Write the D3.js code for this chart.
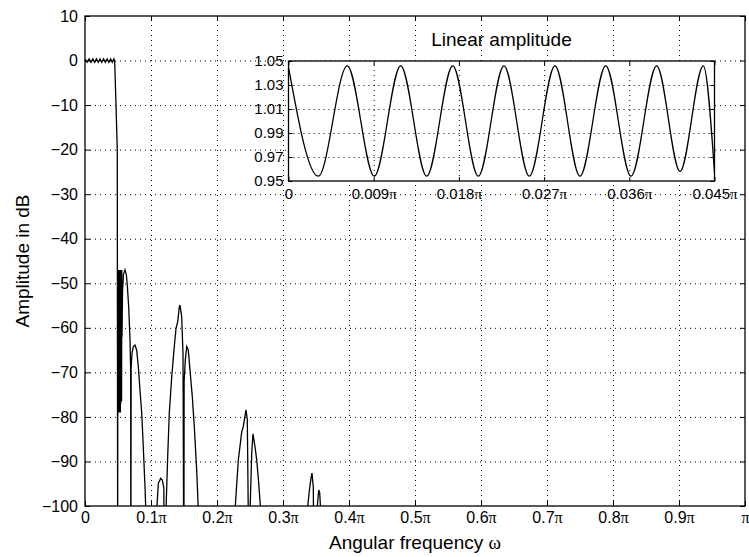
<!DOCTYPE html>
<html>
<head>
<script src="https://d3js.org/d3.v7.min.js"></script>
<style>
    body { margin: 0; background: #fff; font-family: "Liberation Sans", Arial, sans-serif; }
    .grid line { stroke: #000; stroke-width: 0.9; stroke-dasharray: 1, 4; }
    .grid path { display: none; }
    .tick line { stroke: #000; stroke-width: 1; }
</style>
</head>
<body>
<script>
// frequency in units of pi
// passband ripple (dB)
var passW = [0, 0.00315, 0.00621, 0.00906, 0.01185, 0.0146, 0.01735, 0.02005, 0.02276,
    0.02544, 0.02815, 0.03079, 0.03351, 0.03618, 0.03889, 0.04136, 0.04382, 0.045];
var passDb = [0.38, -0.4, 0.38, -0.4, 0.38, -0.4, 0.38, -0.4, 0.38,
    -0.4, 0.38, -0.4, 0.38, -0.4, 0.38, -0.37, 0.38, -0.38];

// transition + stopband (dB), -120 = below the plot floor
var stopW = [0.0470, 0.0489, 0.0495,
    0.0497, 0.0500, 0.0503, 0.0506, 0.0509, 0.0512, 0.0515, 0.0518, 0.0521, 0.0524,
    0.0527, 0.0530, 0.0533, 0.0536, 0.0539, 0.0542, 0.0545, 0.0548, 0.0551, 0.0554, 0.0557,
    0.0561, 0.0568, 0.0583, 0.0606, 0.0626, 0.0641, 0.0662, 0.0682, 0.0692, 0.0695,
    0.0699, 0.0712, 0.0732, 0.0758, 0.0783, 0.0808, 0.0833, 0.0859, 0.0883, 0.0909, 0.0924,
    0.0950, 0.1060,
    0.1086, 0.1111, 0.1147, 0.1171, 0.1195, 0.1197, 0.1210,
    0.1227, 0.1253, 0.1277, 0.1314, 0.1348, 0.1379, 0.1405, 0.1429, 0.1439, 0.1465, 0.1485, 0.1498,
    0.1502, 0.1520, 0.1541, 0.1565, 0.1591, 0.1626, 0.1656, 0.1692, 0.1717, 0.1750,
    0.2250, 0.2273, 0.2323, 0.2374, 0.2398, 0.2439, 0.2459, 0.2487,
    0.2503, 0.2526, 0.2545, 0.2576, 0.2602, 0.2632, 0.2662, 0.2700,
    0.3350, 0.3368, 0.3398, 0.3424, 0.3439, 0.3459, 0.3472, 0.3490,
    0.3515, 0.3541, 0.3556, 0.3571, 0.3600, 1.0];
var stopDb = [-10, -20, -120,
    -47, -79, -47, -79, -47, -79, -47, -79, -47, -79,
    -47, -77, -47, -79, -47, -77, -47, -76.5, -47, -76.5, -47,
    -62, -52, -48, -47, -48, -50.5, -55.3, -62.7, -69.5, -120,
    -69, -65.7, -64.2, -63.9, -65, -68.7, -74, -79, -86.7, -95.7, -102,
    -120, -120,
    -101, -94.9, -93.8, -94.2, -96, -120, -120,
    -101, -88.9, -79.2, -71, -65, -60.1, -58.6, -55.3, -54.9, -57.5, -66, -120,
    -72, -67.2, -64.2, -65, -69.5, -75.5, -82.2, -91.9, -101, -120,
    -120, -101, -89.7, -83.4, -82.2, -78.4, -80.6, -120,
    -100, -88.2, -83.8, -86.7, -89.7, -94.9, -101, -120,
    -120, -101, -96.7, -93.8, -92.6, -95.7, -120, -120,
    -101, -96.4, -97, -101, -120, -120];

var xTicks = [0, 0.1, 0.2, 0.3, 0.4, 0.5, 0.6, 0.7, 0.8, 0.9, 1];
var xTickLabels = ["0", "0.1π", "0.2π", "0.3π", "0.4π", "0.5π", "0.6π", "0.7π", "0.8π", "0.9π", "π"];
var yTicks = [10, 0, -10, -20, -30, -40, -50, -60, -70, -80, -90, -100];

// inset: linear amplitude in the passband
var insetW = [0, 0.00315, 0.00621, 0.00906, 0.01185, 0.0146, 0.01735, 0.02005, 0.02276,
    0.02544, 0.02815, 0.03079, 0.03351, 0.03618, 0.03889, 0.04136, 0.04382, 0.045];
var insetAmp = [1.045, 0.954, 1.046, 0.954, 1.046, 0.954, 1.046, 0.954, 1.046,
    0.954, 1.046, 0.954, 1.046, 0.954, 1.046, 0.958, 1.046, 0.957];
var insetXTicks = [0, 0.009, 0.018, 0.027, 0.036, 0.045];
var insetXTickLabels = ["0", "0.009π", "0.018π", "0.027π", "0.036π", "0.045π"];
var insetYTicks = [0.95, 0.97, 0.99, 1.01, 1.03, 1.05];

var W = 749, H = 557;
var svg = d3.select("body").append("svg").attr("width", W).attr("height", H);

// writes a label, putting pi in a serif face like the symbol font
function piLabel(sel, labels) {
    sel.each(function(d, i) {
        var t = d3.select(this).text(null);
        var s = labels[i];
        if (s.indexOf("π") >= 0) {
            t.append("tspan").text(s.replace("π", ""));
            t.append("tspan").style("font-family", "'Liberation Serif', serif").text("π");
        } else {
            t.text(s);
        }
    });
}

function minus(d) { return d < 0 ? "\u2212" + Math.abs(d) : String(d); }

// ---------- main axes ----------
var m = {left: 85, right: 745, top: 16, bottom: 506};
var x = d3.scaleLinear().domain([0, 1]).range([m.left, m.right]);
var y = d3.scaleLinear().domain([-100, 10]).range([m.bottom, m.top]);

svg.append("g").attr("class", "grid")
    .attr("transform", "translate(0," + m.bottom + ")")
    .call(d3.axisBottom(x).tickValues(xTicks.slice(1, -1)).tickSize(-(m.bottom - m.top)).tickFormat(""));
svg.append("g").attr("class", "grid")
    .attr("transform", "translate(" + m.left + ",0)")
    .call(d3.axisLeft(y).tickValues(yTicks.slice(1, -1)).tickSize(-(m.right - m.left)).tickFormat(""));

svg.append("clipPath").attr("id", "clipMain").append("rect")
    .attr("x", m.left).attr("y", m.top).attr("width", m.right - m.left).attr("height", m.bottom - m.top);

var mainW = passW.concat(stopW), mainDb = passDb.concat(stopDb);
svg.append("path")
    .datum(d3.range(mainW.length))
    .attr("clip-path", "url(#clipMain)")
    .attr("fill", "none").attr("stroke", "#000").attr("stroke-width", 1.3)
    .attr("d", d3.line().x(function(i) { return x(mainW[i]); }).y(function(i) { return y(mainDb[i]); }));

var xb = svg.append("g").attr("transform", "translate(0," + m.bottom + ")")
    .call(d3.axisBottom(x).tickValues(xTicks).tickSize(-5).tickPadding(6));
xb.selectAll("text").style("font-size", "16px").style("font-family", "'Liberation Sans', Arial, sans-serif").attr("fill", "#000");
piLabel(xb.selectAll(".tick text"), xTickLabels);
svg.append("g").attr("transform", "translate(0," + m.top + ")")
    .call(d3.axisTop(x).tickValues(xTicks).tickSize(-5).tickFormat(""));
var yl = svg.append("g").attr("transform", "translate(" + m.left + ",0)")
    .call(d3.axisLeft(y).tickValues(yTicks).tickSize(-5).tickPadding(7).tickFormat(minus));
yl.selectAll("text").style("font-size", "16px").style("font-family", "'Liberation Sans', Arial, sans-serif").attr("fill", "#000");
svg.append("g").attr("transform", "translate(" + m.right + ",0)")
    .call(d3.axisRight(y).tickValues(yTicks).tickSize(-5).tickFormat(""));
svg.selectAll(".domain").remove();

svg.append("rect").attr("x", m.left).attr("y", m.top)
    .attr("width", m.right - m.left).attr("height", m.bottom - m.top)
    .attr("fill", "none").attr("stroke", "#000").attr("stroke-width", 1.3);

var xlab = svg.append("text").attr("x", (m.left + m.right) / 2).attr("y", 549)
    .attr("text-anchor", "middle").style("font-size", "19px");
xlab.append("tspan").text("Angular frequency ");
xlab.append("tspan").style("font-family", "'Liberation Serif', serif").text("ω");

svg.append("text").attr("transform", "translate(29," + (m.top + m.bottom) / 2 + ") rotate(-90)")
    .attr("text-anchor", "middle").style("font-size", "19px").text("Amplitude in dB");

// ---------- inset ----------
var n = {left: 288.5, right: 714.5, top: 61, bottom: 181};
var xi = d3.scaleLinear().domain([0, 0.045]).range([n.left, n.right]);
var yi = d3.scaleLinear().domain([0.95, 1.05]).range([n.bottom, n.top]);

var inset = svg.append("g");
inset.append("rect").attr("x", n.left).attr("y", n.top)
    .attr("width", n.right - n.left).attr("height", n.bottom - n.top).attr("fill", "#fff");

inset.append("g").attr("class", "grid")
    .attr("transform", "translate(0," + n.bottom + ")")
    .call(d3.axisBottom(xi).tickValues(insetXTicks.slice(1, -1)).tickSize(-(n.bottom - n.top)).tickFormat(""));
inset.append("g").attr("class", "grid")
    .attr("transform", "translate(" + n.left + ",0)")
    .call(d3.axisLeft(yi).tickValues(insetYTicks.slice(1, -1)).tickSize(-(n.right - n.left)).tickFormat(""));

inset.append("clipPath").attr("id", "clipInset").append("rect")
    .attr("x", n.left).attr("y", n.top).attr("width", n.right - n.left).attr("height", n.bottom - n.top);
inset.append("path")
    .datum(d3.range(insetW.length))
    .attr("clip-path", "url(#clipInset)")
    .attr("fill", "none").attr("stroke", "#000").attr("stroke-width", 1.3)
    .attr("d", d3.line().curve(d3.curveMonotoneX)
        .x(function(i) { return xi(insetW[i]); }).y(function(i) { return yi(insetAmp[i]); }));

var xib = inset.append("g").attr("transform", "translate(0," + n.bottom + ")")
    .call(d3.axisBottom(xi).tickValues(insetXTicks).tickSize(-4).tickPadding(7));
xib.selectAll("text").style("font-size", "15px").style("font-family", "'Liberation Sans', Arial, sans-serif").attr("fill", "#000");
piLabel(xib.selectAll(".tick text"), insetXTickLabels);
inset.append("g").attr("transform", "translate(0," + n.top + ")")
    .call(d3.axisTop(xi).tickValues(insetXTicks).tickSize(-4).tickFormat(""));
var yil = inset.append("g").attr("transform", "translate(" + n.left + ",0)")
    .call(d3.axisLeft(yi).tickValues(insetYTicks).tickSize(-4).tickPadding(5).tickFormat(d3.format(".2f")));
yil.selectAll("text").style("font-size", "15px").style("font-family", "'Liberation Sans', Arial, sans-serif").attr("fill", "#000");
inset.append("g").attr("transform", "translate(" + n.right + ",0)")
    .call(d3.axisRight(yi).tickValues(insetYTicks).tickSize(-4).tickFormat(""));
inset.selectAll(".domain").remove();

inset.append("rect").attr("x", n.left).attr("y", n.top)
    .attr("width", n.right - n.left).attr("height", n.bottom - n.top)
    .attr("fill", "none").attr("stroke", "#000").attr("stroke-width", 1.3);

inset.append("text").attr("x", (n.left + n.right) / 2).attr("y", 46)
    .attr("text-anchor", "middle").style("font-size", "19px").text("Linear amplitude");
</script>
</body>
</html>
